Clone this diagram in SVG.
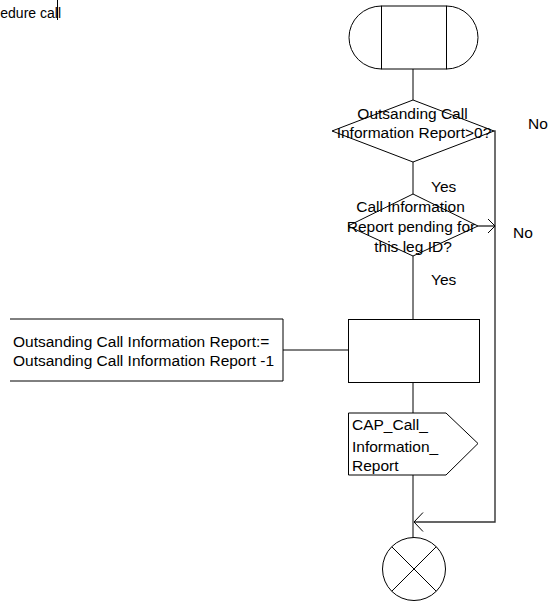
<svg xmlns="http://www.w3.org/2000/svg" width="549" height="601" viewBox="0 0 549 601">
<style>
.s{fill:#fff;stroke:#000;stroke-width:1}
.c{fill:none;stroke:#000;stroke-width:1}
.f{fill:none;stroke:#333;stroke-width:1.4}
text{font-family:"Liberation Sans",Arial,sans-serif;font-size:15.5px;fill:#000}
.m{text-anchor:middle}
</style>
<rect width="549" height="601" fill="#fff"/>
<g id="connectors">
<line class="c" x1="413" y1="69" x2="413" y2="100"/>
<line class="c" x1="413" y1="162" x2="413" y2="194"/>
<line class="c" x1="413" y1="256" x2="413" y2="319"/>
<line class="c" x1="413" y1="382" x2="413" y2="413"/>
<line class="c" x1="413" y1="475" x2="413" y2="538"/>
<line class="c" x1="283" y1="350" x2="348" y2="350"/>
<polyline class="f" points="494,131 495,131 495,522 414,522"/>
<polyline class="c" points="423,512.5 414,522 423,531.5"/>
<line class="f" x1="478" y1="226" x2="494" y2="226"/>
<polyline class="c" points="488,219 495,226 488,233"/>
<line class="c" x1="57.5" y1="0" x2="57.5" y2="20"/>
</g>
<g id="top-text">
<text x="61" y="18" style="font-size:14px" text-anchor="end">edure call</text>
</g>
<g id="start">
<path class="s" d="M381.5,6 A32.5,31.5 0 0 0 381.5,69 Z"/>
<path class="s" d="M446.5,6 A31.5,31.5 0 0 1 446.5,69 Z"/>
<rect class="s" x="381.5" y="6" width="65" height="63"/>
</g>
<g id="decision1">
<polygon class="s" points="413,100 494,131 413,162 332,131"/>
<text class="m" x="412.5" y="119">Outsanding Call</text>
<text class="m" x="414" y="138">Information Report&gt;0?</text>
</g>
<text x="528" y="129">No</text>
<text x="431" y="192">Yes</text>
<g id="decision2">
<polygon class="s" points="413,194 478,226 413,256 348,226"/>
<text class="m" x="410.5" y="212">Call Information</text>
<text class="m" x="411" y="232">Report pending for</text>
<text class="m" x="413" y="252">this leg ID?</text>
</g>
<text x="513" y="238">No</text>
<text x="431" y="285">Yes</text>
<g id="comment">
<path class="c" d="M10,319 H283 V381 H10"/>
<text x="13" y="346.7">Outsanding Call Information Report:=</text>
<text x="13" y="365.7">Outsanding Call Information Report -1</text>
</g>
<g id="task">
<rect class="s" x="348.5" y="319.5" width="131" height="63"/>
</g>
<g id="signal">
<polygon class="s" points="348.5,413 446,413 478,443.5 446,475 348.5,475"/>
<text x="352" y="430">CAP_Call_</text>
<text x="352" y="451.5">Information_</text>
<text x="352" y="471">Report</text>
</g>
<g id="stop">
<circle class="s" cx="414" cy="569" r="31.5"/>
<line class="c" x1="391.7" y1="546.7" x2="436.3" y2="591.3"/>
<line class="c" x1="436.3" y1="546.7" x2="391.7" y2="591.3"/>
</g>
</svg>
